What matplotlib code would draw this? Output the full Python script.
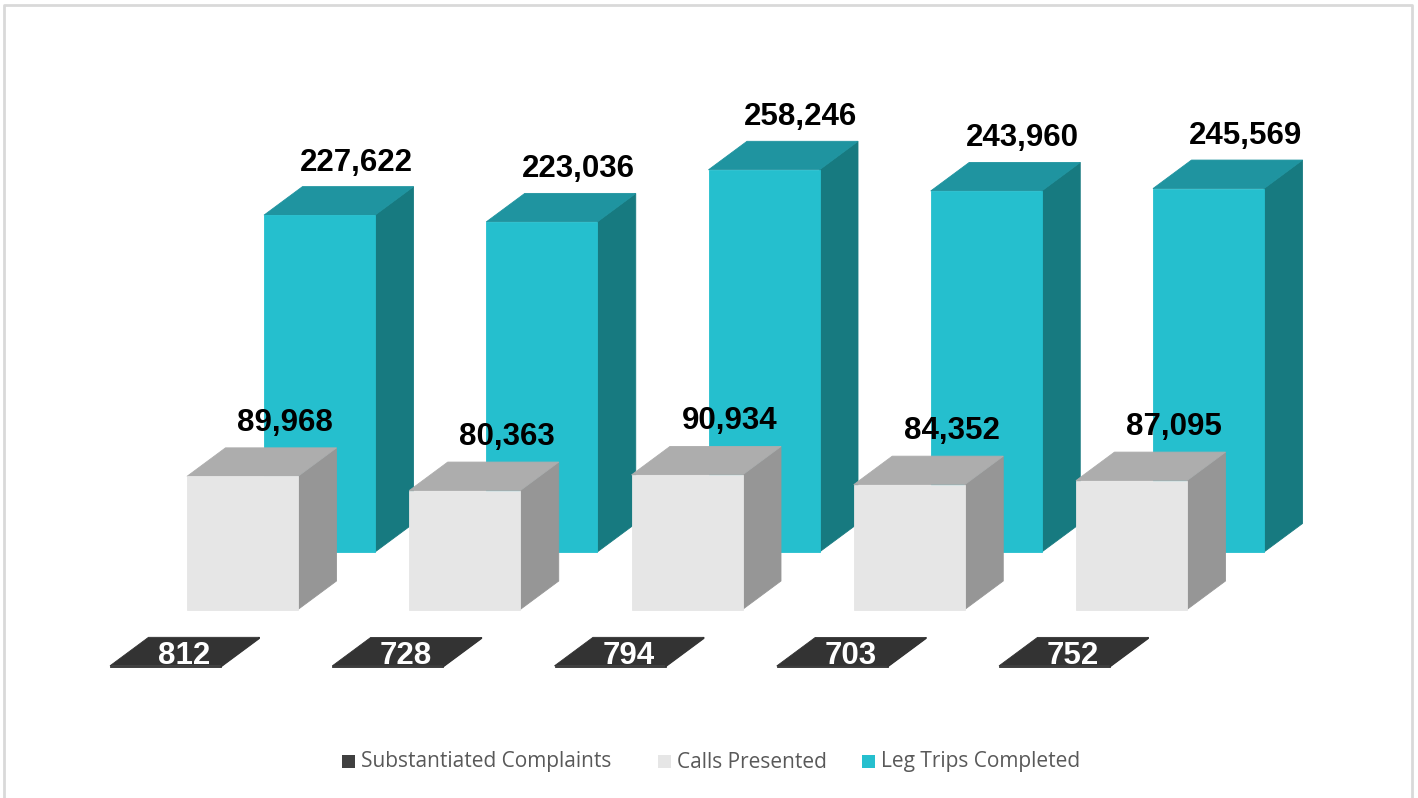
import matplotlib
matplotlib.use("Agg")
import matplotlib.pyplot as plt
from matplotlib.patches import Polygon, Rectangle

# ---- data ----
categories = ["1", "2", "3", "4", "5"]
series_names = ["Substantiated Complaints", "Calls Presented", "Leg Trips Completed"]
complaints = [812, 728, 794, 703, 752]
calls = [89968, 80363, 90934, 84352, 87095]
leg_trips = [227622, 223036, 258246, 243960, 245569]

# ---- style / layout ----
W, H = 1418, 798
fig = plt.figure(figsize=(W / 100, H / 100), dpi=100)
ax = fig.add_axes([0, 0, 1, 1])
ax.set_xlim(0, W)
ax.set_ylim(H, 0)
ax.axis("off")

scale = 0.00148          # pixels per unit
bar_w = 111
dx, dy = 38.5, 28.5      # depth offset
x0 = 264                 # back row first bar left
step = 222.25
back_base = 552

rows = [
    # (values, row index from back, front, top, side colours, label colour)
    (leg_trips, 0, "#25BFCE", "#1F94A0", "#177A80", "black"),
    (calls, 1, "#E6E6E6", "#ADADAD", "#969696", "black"),
    (complaints, 2, "#333333", "#333333", "#333333", "white"),
]

for vals, r, cf, ct, cs, lc in rows:
    for i, v in enumerate(vals):
        left = x0 + i * step - r * 77
        base = back_base + r * 57.5
        h = v * scale
        top = base - h
        right = left + bar_w
        side = Polygon([(right, base), (right + dx, base - dy), (right + dx, top - dy), (right, top)],
                       closed=True, facecolor=cs, edgecolor=cs, lw=0.6)
        topf = Polygon([(left, top), (left + dx, top - dy), (right + dx, top - dy), (right, top)],
                       closed=True, facecolor=ct, edgecolor=ct, lw=0.6)
        front = Rectangle((left, top), bar_w, h, facecolor=cf, edgecolor=cf, lw=0.6)
        for p in (side, topf, front):
            ax.add_patch(p)
        label = f"{v:,}"
        if r == 0:
            ax.text(left + bar_w / 2 + dx - 2, top - dy - 9, label, ha="center", va="bottom",
                    fontsize=22.5, fontweight="bold", family="Liberation Sans", color=lc)
        elif r == 1:
            ax.text(left + bar_w / 2 + dx + 4, top - dy - 10, label, ha="center", va="bottom",
                    fontsize=22.5, fontweight="bold", family="Liberation Sans", color=lc)
        else:
            ax.text(left + bar_w / 2 + dx / 2 - 1, base - 11, label, ha="center", va="center",
                    fontsize=22.5, fontweight="bold", family="Liberation Sans", color=lc)

# ---- legend ----
leg_items = [(series_names[0], "#404040", 342), (series_names[1], "#E6E6E6", 658),
             (series_names[2], "#25BFCE", 862)]
for name, col, lx in leg_items:
    ax.add_patch(Rectangle((lx, 755), 13, 13, facecolor=col, edgecolor="none"))
    ax.text(lx + 19, 762, name, ha="left", va="center", fontsize=15,
            family="Open Sans", color="#595959")

# ---- frame ----
ax.plot([4, 4, 1412, 1412], [H, 5, 5, H], color="#D9D9D9", lw=2, solid_capstyle="butt")

fig.savefig("out.png", dpi=100)
